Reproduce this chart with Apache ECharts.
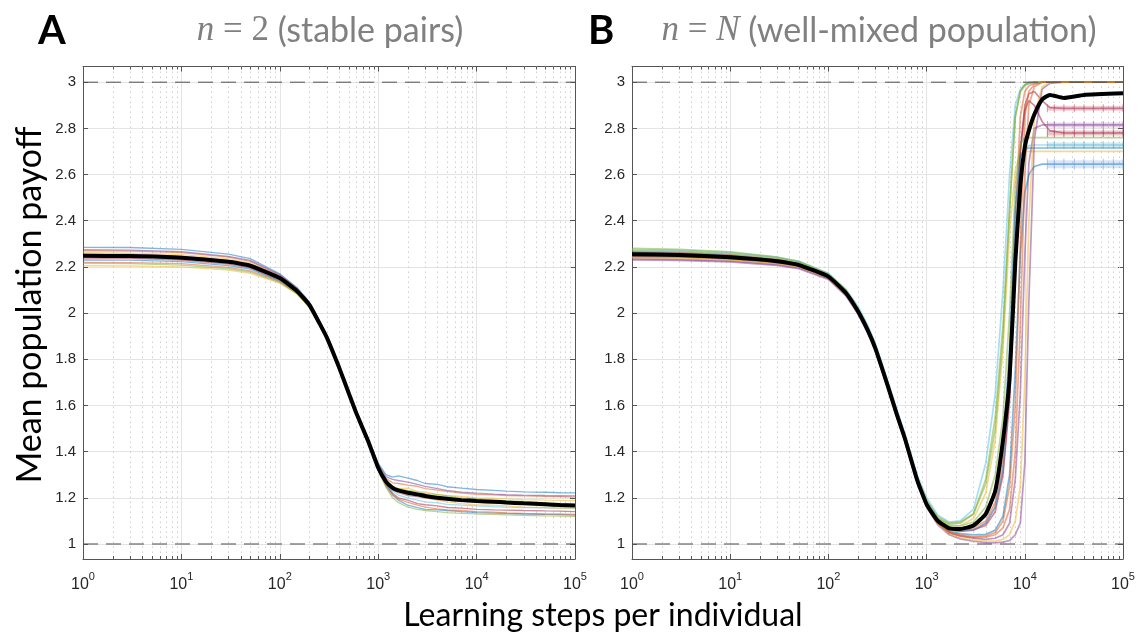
<!DOCTYPE html>
<html>
<head>
<meta charset="utf-8">
<script src="https://cdn.jsdelivr.net/npm/echarts@6/dist/echarts.min.js"></script>
<style>
  html, body { margin: 0; padding: 0; background: #fff; }
  #chart { width: 1139px; height: 632px; }
</style>
</head>
<body>
<div id="chart"></div>
<script>
// ---- tick labels and reference levels ----
const Y_TICKS = [1, 1.2, 1.4, 1.6, 1.8, 2, 2.2, 2.4, 2.6, 2.8, 3];
const REF_LEVELS = [1, 3];
const PANEL_TITLES = ['stable pairs', 'well-mixed population'];

// ---- panel A: n = 2 (stable pairs) ----
const X_A = [1, 3, 10, 30, 50, 100, 150, 200, 250, 300, 400, 500, 600, 800, 1000, 1200, 1400, 1600, 2000, 2500, 3000, 4000, 5000, 7000, 10000, 15000, 20000, 30000, 50000, 70000, 100000];
const MEAN_A = [2.248, 2.247, 2.240, 2.222, 2.205, 2.152, 2.095, 2.035, 1.960, 1.895, 1.765, 1.655, 1.566, 1.440, 1.330, 1.270, 1.243, 1.232, 1.222, 1.215, 1.208, 1.200, 1.196, 1.190, 1.186, 1.183, 1.180, 1.176, 1.172, 1.169, 1.167];
const RUNS_A = [
  [2.285, 2.284, 2.276, 2.255, 2.236, 2.170, 2.110, 2.048, 1.972, 1.905, 1.774, 1.662, 1.573, 1.450, 1.350, 1.300, 1.290, 1.295, 1.285, 1.275, 1.262, 1.258, 1.248, 1.242, 1.236, 1.232, 1.229, 1.226, 1.224, 1.222, 1.221],
  [2.270, 2.268, 2.262, 2.242, 2.224, 2.162, 2.105, 2.043, 1.968, 1.902, 1.771, 1.660, 1.570, 1.446, 1.340, 1.285, 1.265, 1.262, 1.255, 1.250, 1.240, 1.233, 1.228, 1.220, 1.215, 1.213, 1.210, 1.208, 1.206, 1.205, 1.203],
  [2.262, 2.260, 2.253, 2.235, 2.217, 2.157, 2.100, 2.040, 1.965, 1.900, 1.769, 1.658, 1.569, 1.444, 1.335, 1.275, 1.250, 1.240, 1.242, 1.228, 1.225, 1.215, 1.210, 1.206, 1.200, 1.198, 1.195, 1.192, 1.190, 1.189, 1.188],
  [2.255, 2.254, 2.247, 2.228, 2.210, 2.153, 2.097, 2.037, 1.962, 1.897, 1.767, 1.656, 1.567, 1.441, 1.332, 1.270, 1.235, 1.222, 1.210, 1.205, 1.200, 1.192, 1.190, 1.185, 1.182, 1.178, 1.177, 1.174, 1.170, 1.168, 1.166],
  [2.250, 2.249, 2.243, 2.224, 2.207, 2.150, 2.095, 2.035, 1.960, 1.895, 1.765, 1.655, 1.566, 1.440, 1.330, 1.272, 1.250, 1.240, 1.232, 1.226, 1.218, 1.214, 1.208, 1.200, 1.196, 1.190, 1.188, 1.184, 1.178, 1.175, 1.172],
  [2.245, 2.244, 2.236, 2.218, 2.200, 2.146, 2.092, 2.032, 1.958, 1.893, 1.763, 1.653, 1.564, 1.438, 1.327, 1.265, 1.230, 1.212, 1.200, 1.190, 1.182, 1.178, 1.172, 1.168, 1.165, 1.162, 1.160, 1.158, 1.156, 1.155, 1.154],
  [2.238, 2.237, 2.230, 2.212, 2.196, 2.143, 2.090, 2.030, 1.956, 1.891, 1.762, 1.652, 1.563, 1.436, 1.325, 1.260, 1.220, 1.200, 1.190, 1.175, 1.170, 1.165, 1.158, 1.155, 1.150, 1.148, 1.147, 1.145, 1.143, 1.142, 1.140],
  [2.230, 2.229, 2.223, 2.206, 2.190, 2.140, 2.088, 2.028, 1.955, 1.890, 1.761, 1.651, 1.562, 1.435, 1.322, 1.255, 1.215, 1.190, 1.168, 1.158, 1.150, 1.148, 1.145, 1.140, 1.136, 1.134, 1.132, 1.130, 1.128, 1.127, 1.125],
  [2.220, 2.219, 2.214, 2.198, 2.183, 2.136, 2.085, 2.026, 1.953, 1.889, 1.760, 1.650, 1.561, 1.434, 1.320, 1.250, 1.210, 1.195, 1.180, 1.168, 1.160, 1.152, 1.148, 1.145, 1.140, 1.138, 1.135, 1.132, 1.130, 1.130, 1.128],
  [2.205, 2.204, 2.200, 2.186, 2.172, 2.130, 2.082, 2.024, 1.952, 1.888, 1.759, 1.649, 1.560, 1.433, 1.323, 1.262, 1.235, 1.225, 1.215, 1.208, 1.200, 1.190, 1.182, 1.175, 1.170, 1.168, 1.165, 1.160, 1.158, 1.155, 1.155],
  [2.275, 2.273, 2.266, 2.246, 2.228, 2.166, 2.108, 2.046, 1.970, 1.904, 1.773, 1.661, 1.572, 1.448, 1.345, 1.292, 1.280, 1.275, 1.268, 1.258, 1.250, 1.240, 1.232, 1.225, 1.220, 1.216, 1.214, 1.212, 1.210, 1.209, 1.208],
  [2.215, 2.214, 2.208, 2.192, 2.178, 2.133, 2.084, 2.025, 1.952, 1.888, 1.760, 1.650, 1.561, 1.433, 1.318, 1.245, 1.200, 1.180, 1.160, 1.150, 1.145, 1.140, 1.136, 1.133, 1.130, 1.128, 1.126, 1.124, 1.122, 1.121, 1.120]
];

// ---- panel B: n = N (well-mixed population) ----
const X_B = [1, 3, 10, 30, 50, 100, 150, 200, 250, 300, 400, 500, 600, 800, 1000, 1300, 1700, 2200, 3000, 4000, 5000, 6000, 7000, 8000, 9000, 10000, 11000, 12500, 15000, 18000, 25000, 40000, 100000];
const MEAN_B = [2.255, 2.252, 2.242, 2.225, 2.208, 2.158, 2.088, 2.008, 1.928, 1.848, 1.688, 1.558, 1.458, 1.278, 1.172, 1.100, 1.068, 1.065, 1.080, 1.130, 1.230, 1.450, 1.720, 2.220, 2.550, 2.720, 2.790, 2.860, 2.925, 2.945, 2.932, 2.945, 2.952];
const RUNS_B = [
  [2.275, 2.272, 2.262, 2.242, 2.224, 2.172, 2.105, 2.030, 1.950, 1.870, 1.710, 1.580, 1.480, 1.300, 1.200, 1.125, 1.095, 1.100, 1.150, 1.350, 1.650, 2.100, 2.600, 2.900, 2.970, 2.990, 2.995, 3.000, 3.000, 3.000, 3.000, 3.000, 3.000],
  [2.260, 2.257, 2.248, 2.230, 2.213, 2.163, 2.093, 2.012, 1.932, 1.852, 1.692, 1.562, 1.462, 1.282, 1.182, 1.112, 1.085, 1.090, 1.130, 1.280, 1.550, 1.950, 2.450, 2.850, 2.960, 2.985, 2.995, 3.000, 3.000, 3.000, 3.000, 3.000, 3.000],
  [2.245, 2.243, 2.235, 2.219, 2.204, 2.155, 2.085, 2.005, 1.925, 1.845, 1.685, 1.555, 1.455, 1.275, 1.175, 1.105, 1.078, 1.080, 1.110, 1.220, 1.450, 1.850, 2.350, 2.620, 2.690, 2.700, 2.700, 2.700, 2.700, 2.700, 2.700, 2.700, 2.700],
  [2.250, 2.248, 2.240, 2.223, 2.207, 2.158, 2.088, 2.008, 1.928, 1.848, 1.688, 1.558, 1.458, 1.278, 1.172, 1.100, 1.062, 1.055, 1.060, 1.090, 1.160, 1.320, 1.650, 2.250, 2.700, 2.880, 2.920, 2.900, 2.830, 2.790, 2.780, 2.780, 2.780],
  [2.235, 2.233, 2.226, 2.211, 2.197, 2.150, 2.080, 2.000, 1.920, 1.840, 1.680, 1.550, 1.450, 1.270, 1.165, 1.090, 1.048, 1.035, 1.025, 1.020, 1.025, 1.040, 1.090, 1.280, 1.650, 2.250, 2.650, 2.800, 2.815, 2.815, 2.815, 2.815, 2.815],
  [2.255, 2.253, 2.244, 2.226, 2.210, 2.160, 2.090, 2.010, 1.930, 1.850, 1.690, 1.560, 1.460, 1.280, 1.175, 1.102, 1.068, 1.062, 1.070, 1.100, 1.180, 1.360, 1.750, 2.400, 2.850, 2.960, 2.985, 2.995, 3.000, 3.000, 3.000, 3.000, 3.000],
  [2.245, 2.243, 2.236, 2.219, 2.204, 2.156, 2.086, 2.006, 1.926, 1.846, 1.686, 1.556, 1.456, 1.274, 1.170, 1.095, 1.055, 1.045, 1.040, 1.042, 1.060, 1.120, 1.300, 1.750, 2.250, 2.520, 2.600, 2.635, 2.645, 2.645, 2.645, 2.645, 2.645],
  [2.265, 2.262, 2.252, 2.233, 2.216, 2.165, 2.095, 2.015, 1.935, 1.855, 1.695, 1.565, 1.465, 1.285, 1.178, 1.104, 1.066, 1.058, 1.062, 1.080, 1.140, 1.300, 1.620, 2.200, 2.700, 2.900, 2.950, 2.960, 2.920, 2.890, 2.887, 2.887, 2.887],
  [2.250, 2.248, 2.240, 2.222, 2.206, 2.157, 2.087, 2.007, 1.927, 1.847, 1.687, 1.557, 1.457, 1.277, 1.172, 1.098, 1.062, 1.058, 1.062, 1.090, 1.160, 1.330, 1.720, 2.300, 2.620, 2.710, 2.725, 2.728, 2.728, 2.728, 2.728, 2.728, 2.728],
  [2.230, 2.228, 2.222, 2.207, 2.192, 2.146, 2.076, 1.996, 1.916, 1.836, 1.676, 1.546, 1.446, 1.266, 1.160, 1.083, 1.040, 1.022, 1.012, 1.006, 1.005, 1.008, 1.015, 1.040, 1.090, 1.350, 2.050, 2.750, 2.970, 2.995, 3.000, 3.000, 3.000],
  [2.280, 2.276, 2.265, 2.243, 2.224, 2.170, 2.100, 2.020, 1.940, 1.860, 1.700, 1.570, 1.470, 1.290, 1.185, 1.110, 1.078, 1.078, 1.095, 1.160, 1.300, 1.550, 2.000, 2.550, 2.730, 2.760, 2.760, 2.760, 2.760, 2.760, 2.760, 2.760, 2.760],
  [2.245, 2.243, 2.235, 2.218, 2.203, 2.155, 2.085, 2.005, 1.925, 1.845, 1.685, 1.555, 1.455, 1.273, 1.168, 1.092, 1.052, 1.040, 1.032, 1.035, 1.050, 1.100, 1.250, 1.600, 2.300, 2.850, 2.960, 2.990, 3.000, 3.000, 3.000, 3.000, 3.000],
  [2.240, 2.238, 2.230, 2.214, 2.200, 2.152, 2.082, 2.002, 1.922, 1.842, 1.682, 1.552, 1.452, 1.270, 1.165, 1.088, 1.045, 1.028, 1.018, 1.012, 1.012, 1.020, 1.040, 1.100, 1.250, 1.700, 2.400, 2.850, 2.980, 3.000, 3.000, 3.000, 3.000],
  [2.270, 2.267, 2.257, 2.238, 2.220, 2.168, 2.100, 2.020, 1.940, 1.860, 1.700, 1.570, 1.470, 1.290, 1.190, 1.118, 1.090, 1.095, 1.130, 1.260, 1.500, 1.900, 2.450, 2.850, 2.960, 2.990, 3.000, 3.000, 3.000, 3.000, 3.000, 3.000, 3.000],
  [2.255, 2.253, 2.245, 2.227, 2.210, 2.160, 2.090, 2.010, 1.930, 1.850, 1.690, 1.560, 1.460, 1.275, 1.170, 1.093, 1.050, 1.035, 1.028, 1.030, 1.040, 1.070, 1.150, 1.400, 1.950, 2.600, 2.900, 2.980, 3.000, 3.000, 3.000, 3.000, 3.000],
  [2.260, 2.258, 2.248, 2.230, 2.214, 2.163, 2.093, 2.013, 1.933, 1.853, 1.693, 1.563, 1.463, 1.283, 1.177, 1.103, 1.070, 1.068, 1.080, 1.120, 1.220, 1.420, 1.850, 2.450, 2.680, 2.710, 2.715, 2.715, 2.715, 2.715, 2.715, 2.715, 2.715]
];
// long-run levels with spread markers for the runs that settle below 3
const PLATEAU_LEVELS_B = [2.887, 2.815, 2.78, 2.728, 2.645];
const PLATEAU_X_B = [17000, 20000, 25000, 32000, 40000, 50000, 63000, 80000, 100000];

// ---- styling ----
const MATLAB = ['#0072BD', '#D95319', '#EDB120', '#7E2F8E', '#77AC30', '#4DBEEE', '#A2142F'];
const COLORS_A = MATLAB;
const COLORS_B = ['#4DBEEE', '#77AC30', '#EDB120', '#A2142F', '#7E2F8E', '#D95319', '#0072BD', '#A2142F',
                  '#4DBEEE', '#7E2F8E', '#77AC30', '#D95319', '#EDB120', '#77AC30', '#D95319', '#0072BD'];
const PLATEAU_COLORS = ['#C04060', '#8E4FA0', '#A2142F', '#4DA8C0', '#6A9ADF'];
const PLATEAU_WIDTHS = [5, 5, 5, 5, 8];
const AXIS_COLOR = '#555555';
const TEXT_COLOR = '#262626';
const GRID_COLOR = '#e4e4e4';
const Y_RANGE = [0.935, 3.068];
const X_RANGE = [1, 100000];
const SANS = '"Liberation Sans", Arial, sans-serif';
const HUMANIST = 'Lato, "Open Sans", sans-serif';

// minor log ticks: 2..9 inside each decade
const MINOR_X = [];
for (let d = 1; d < X_RANGE[1]; d *= 10) {
  for (let m = 2; m <= 9; m++) MINOR_X.push(m * d);
}

const chart = echarts.init(document.getElementById('chart'), null, { renderer: 'canvas' });

const grids = [
  { left: 83, right: 564, top: 66.5, bottom: 73 },
  { left: 632, right: 16, top: 66.5, bottom: 73 }
];

const xAxes = [];
const yAxes = [];
grids.forEach((g, k) => {
  // bottom log axis with labels
  xAxes.push({
    type: 'log', logBase: 10, gridIndex: k, min: X_RANGE[0], max: X_RANGE[1], splitNumber: 5,
    axisLine: { show: true, onZero: false, lineStyle: { color: AXIS_COLOR, width: 1 } },
    axisTick: { show: true, inside: true, length: 5, lineStyle: { color: AXIS_COLOR } },
    splitLine: { show: true, lineStyle: { color: GRID_COLOR, width: 1 } },
    minorTick: { show: false }, minorSplitLine: { show: false },
    axisLabel: {
      show: true, margin: 12,
      formatter: v => '{b|10}{e|' + Math.round(Math.log10(v)) + '}',
      rich: {
        b: { fontSize: 16, fontFamily: SANS, color: TEXT_COLOR, padding: [6, 0, 0, 0], verticalAlign: 'bottom' },
        e: { fontSize: 11, fontFamily: SANS, color: TEXT_COLOR, verticalAlign: 'top' }
      }
    }
  });
  // top edge of the box
  xAxes.push({
    type: 'log', logBase: 10, gridIndex: k, position: 'top', min: X_RANGE[0], max: X_RANGE[1], splitNumber: 5,
    axisLine: { show: true, onZero: false, lineStyle: { color: AXIS_COLOR, width: 1 } },
    axisTick: { show: true, inside: true, length: 5, lineStyle: { color: AXIS_COLOR } },
    splitLine: { show: false }, axisLabel: { show: false }
  });
  yAxes.push({
    type: 'value', gridIndex: k, min: Y_RANGE[0], max: Y_RANGE[1],
    axisLine: { show: true, onZero: false, lineStyle: { color: AXIS_COLOR, width: 1 } },
    axisTick: { show: true, inside: true, length: 5, customValues: Y_TICKS, lineStyle: { color: AXIS_COLOR } },
    splitLine: { show: true, lineStyle: { color: GRID_COLOR, width: 1 } },
    axisLabel: {
      show: true, customValues: Y_TICKS, margin: 7,
      formatter: v => String(+v.toFixed(1)),
      fontSize: 15, fontFamily: SANS, color: TEXT_COLOR
    }
  });
  yAxes.push({
    type: 'value', gridIndex: k, position: 'right', min: Y_RANGE[0], max: Y_RANGE[1],
    axisLine: { show: true, onZero: false, lineStyle: { color: AXIS_COLOR, width: 1 } },
    axisTick: { show: true, inside: true, length: 5, customValues: Y_TICKS, lineStyle: { color: AXIS_COLOR } },
    splitLine: { show: false }, axisLabel: { show: false }
  });
});

const series = [];
function lineSeries(k, data, style, z, extra) {
  return Object.assign({
    type: 'line', xAxisIndex: k * 2, yAxisIndex: k * 2, silent: true, z: z,
    showSymbol: false, symbol: 'none', animation: false,
    data: data, lineStyle: style
  }, extra || {});
}
function addPanel(k, xs, runs, colors, mean, runWidth) {
  // dotted minor grid + minor ticks on bottom and top edges
  series.push({
    type: 'custom', xAxisIndex: k * 2, yAxisIndex: k * 2, silent: true, z: 1,
    data: MINOR_X.map(v => [v, Y_RANGE[0]]),
    encode: { x: 0, y: 1 },
    renderItem: (params, api) => {
      const x = api.value(0);
      const b = api.coord([x, Y_RANGE[0]]);
      const t = api.coord([x, Y_RANGE[1]]);
      const px = Math.round(b[0]) + 0.5;
      return {
        type: 'group', children: [
          { type: 'line', shape: { x1: px, y1: t[1], x2: px, y2: b[1] },
            style: { stroke: '#cfcfcf', lineWidth: 1, lineDash: [1.5, 3.5] } },
          { type: 'line', shape: { x1: px, y1: b[1], x2: px, y2: b[1] - 3 },
            style: { stroke: AXIS_COLOR, lineWidth: 1 } },
          { type: 'line', shape: { x1: px, y1: t[1], x2: px, y2: t[1] + 3 },
            style: { stroke: AXIS_COLOR, lineWidth: 1 } }
        ]
      };
    }
  });
  runs.forEach((run, i) => {
    series.push(lineSeries(k, xs.map((x, j) => [x, run[j]]),
      { width: runWidth, color: colors[i % colors.length], opacity: 0.5 }, 3));
  });
  REF_LEVELS.forEach(level => {
    series.push(lineSeries(k, [[X_RANGE[0], level], [X_RANGE[1], level]],
      { width: 1, color: '#4d4d4d', type: [15, 8] }, 4));
  });
  series.push(lineSeries(k, xs.map((x, j) => [x, mean[j]]),
    { width: 4, color: '#000000' }, 6, { smooth: 0.15 }));
}
addPanel(0, X_A, RUNS_A, COLORS_A, MEAN_A, 1.3);
addPanel(1, X_B, RUNS_B, COLORS_B, MEAN_B, 1.7);

// translucent long-run bands with spread markers
PLATEAU_LEVELS_B.forEach((level, i) => {
  series.push(lineSeries(1, PLATEAU_X_B.map(x => [x, level]),
    { width: PLATEAU_WIDTHS[i], color: PLATEAU_COLORS[i], opacity: 0.25 }, 3, {
      showSymbol: true, symbol: 'rect', symbolSize: [1.2, PLATEAU_WIDTHS[i] + 3],
      itemStyle: { color: PLATEAU_COLORS[i], opacity: 0.45 }
    }));
});

const titleRich = {
  i: { fontFamily: '"Liberation Serif", serif', fontStyle: 'italic', fontSize: 35, fill: '#808080' },
  r: { fontFamily: '"Liberation Serif", serif', fontSize: 35, fill: '#808080' },
  s: { fontFamily: HUMANIST, fontSize: 34, fill: '#808080' }
};

chart.setOption({
  animation: false,
  backgroundColor: '#ffffff',
  grid: grids,
  xAxis: xAxes,
  yAxis: yAxes,
  series: series,
  graphic: [
    { type: 'text', left: 38, top: 11, style: { text: 'A', fontFamily: HUMANIST, fontWeight: 'bold', fontSize: 40, fill: '#000' } },
    { type: 'text', left: 588, top: 11, style: { text: 'B', fontFamily: HUMANIST, fontWeight: 'bold', fontSize: 40, fill: '#000' } },
    { type: 'text', x: 330, y: 31, style: {
        text: '{i|n}{r| = 2 }{s|(' + PANEL_TITLES[0] + ')}', rich: titleRich,
        textAlign: 'center', textVerticalAlign: 'middle' } },
    { type: 'text', x: 879, y: 31, style: {
        text: '{i|n}{r| = }{i|N }{s|(' + PANEL_TITLES[1] + ')}', rich: titleRich,
        textAlign: 'center', textVerticalAlign: 'middle' } },
    { type: 'text', x: 30, y: 305, rotation: Math.PI / 2, style: {
        text: 'Mean population payoff', fontFamily: HUMANIST, fontSize: 34, fill: '#000',
        textAlign: 'center', textVerticalAlign: 'middle' } },
    { type: 'text', x: 603, y: 616, style: {
        text: 'Learning steps per individual', fontFamily: HUMANIST, fontSize: 32, fill: '#000',
        textAlign: 'center', textVerticalAlign: 'middle' } }
  ]
});
</script>
</body>
</html>
